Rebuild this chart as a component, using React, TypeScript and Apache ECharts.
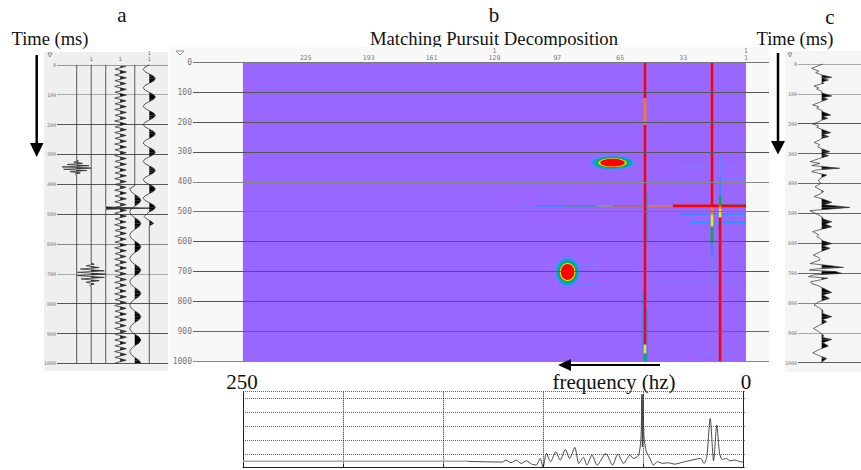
import React, { useEffect, useRef } from "react";
import * as echarts from "echarts";

const SERIF = "'Liberation Serif', 'Times New Roman', serif";
const MONO = "'DejaVu Sans Mono', monospace";

// ---- Panel a: trace number -> [time ms, amplitude in trace spacings]
const trace1: [number, number][] = [[0, 0], [318, 0], [322, .12], [326, -.2], [330, .4], [334, -.65], [338, .85], [342, -1], [346, 1], [350, -.9], [354, .7], [358, -.45], [362, .25], [366, -.1], [369, 0], [1000, 0]];
const trace2: [number, number][] = [[0, 0], [664, 0], [668, .2], [673, -.35], [679, .55], [684, -.75], [690, .9], [695, -.95], [701, .98], [706, -.95], [712, .9], [717, -.7], [723, .55], [728, -.35], [734, .2], [739, -.1], [742, 0], [1000, 0]];
const trace3: [number, number][] = [[0, 0], [476, 0], [480, 3.05], [484, 0], [1000, 0]];
const trace4Start = 5;
const trace4Step = 9.65;
const trace4: number[] = [
  .4, -.36, .42, -.38, .42, -.36, .4, -.38, .42, -.36, .42, -.38, .4, -.36, .42, -.38,
  .42, -.36, .4, -.38, .42, -.36, .42, -.38, .4, -.36, .42, -.38, .42, -.36, .4, -.38,
  .42, -.36, .42, -.38, .4, -.36, .42, -.38, .42, -.36, .4, -.38, .42, -.36, .42, -.38,
  .4, -.36, .42, -.38, .42, -.36, .4, -.38, .42, -.36, .42, -.38, .4, -.36, .42, -.38,
  .42, -.36, .4, -.38, .42, -.36, .42, -.38, .4, -.36, .42, -.38, .42, -.36, .4, -.38,
  .42, -.36, .42, -.38, .4, -.36, .42, -.38, .42, -.36, .4, -.38, .42, -.36, .42, -.38,
  .4, -.36, .42, -.38, .42, -.36, .4, -.38,
];
const trace5Start = 405;
const trace5Step = 9.75;
const trace5: number[] = [
  0, -.35, -.25, 0, .3, .42, .3, 0, -.25, -.35, -.25, 0, .3, .42, .3, 0,
  -.25, -.35, -.25, 0, .3, .42, .3, 0, -.25, -.35, -.25, 0, .3, .42, .3, 0,
  -.25, -.35, -.25, 0, .3, .42, .3, 0, -.25, -.35, -.25, 0, .3, .42, .3, 0,
  -.25, -.35, -.25, 0, .3, .42, .3, 0, -.25, -.35, -.25, 0, .3, .42,
];
const trace6Step = 7.7;
const trace6: number[] = [
  0, -.3, -.42, -.3, 0, .3, .42, .3, 0, -.3, -.42, -.3, 0, .3, .42, .3,
  0, -.3, -.42, -.3, 0, .3, .42, .3, 0, -.3, -.42, -.3, 0, .3, .42, .3,
  0, -.3, -.42, -.3, 0, .3, .42, .3, 0, -.3, -.42, -.3, 0, .3, .42, .3,
  0, -.3, -.42, -.3, 0, .3, .42, .3, 0, -.3, -.42, -.3, 0, .3, .42, .3,
  0, -.2, -.35, -.2, .1, .3, 0,
];

// ---- Panel c: composite trace [time ms, amplitude]
const compositeTrace: [number, number][] = [
  [0, 1], [14.5, -10], [24, -3], [29, -6], [36, -.7], [44.6, 10], [49, 1], [53.6, 6.7], [60, .5], [64.7, 2],
  [73.7, -7.7], [80, -3], [84, -5], [90, -1], [98, 1], [107, 10], [112, 1], [118, 6], [125, 0], [128, -2],
  [137, -9], [143, -3], [148, -5], [155, 0], [160, 1], [171, 9], [176, 1], [182, 6], [188, 0], [192, -2],
  [201, -9], [207, -3], [212, -5], [220, 1], [230, 9], [236, 1], [243, 7], [249, 0], [254, -2], [263, -7.7],
  [270, -2], [277, -4], [285, 1], [293.5, 8.3], [300, 1], [307, 6.7], [317, -3], [327, -11.7], [332.6, -1.7], [340, -10],
  [349, 18], [355, -6], [360.5, -10], [372, 5], [380, 0], [388, -3.3], [400, -1], [411, -6.7], [427, 1.7], [436, -2],
  [444, -7.7], [452, 1], [463, 10], [471, 2], [480, 28], [491, -11.7], [511, 0], [520, 2], [528, 10], [536, 3],
  [545, 10], [553, 0], [561, -9], [572, -3], [578, -5], [584, -1.7], [592, 1], [601, 10], [609, 1], [617, 8.3],
  [628, -1], [640, -8.3], [648, -3], [656, -1.7], [668, -11.7], [674, 5], [681, 21.7], [686, -6], [690, -12.3], [695, 14],
  [701, 20], [706, -8], [712, -13.3], [717, 6], [723, -1.7], [729, -11], [735, -10], [743, -3], [751, 1.7], [765, 10],
  [773, 1], [785, 7.7], [796, -3], [807, -7.7], [815, -3], [824, 1], [835, 1], [846, 10], [855, 1], [863, 5],
  [874, -2], [885, -8.3], [896, -3], [908, 1.7], [916, 1], [922, 10], [933, 1], [944, 6.7], [955, -2], [967, -9],
  [976, -3], [986, 5], [1000, -1],
];

// ---- Panel b: frequency axis labels, extent, blobs and ridges (values)
const decompFreqLabels = [225, 193, 161, 129, 97, 65, 33, 1];
const decompExtent: [number, number, number, number] = [257, 0, 1, 1000];
// f centre, t centre, f radius, t radius
const blobs: [number, number, number, number][] = [
  [68.9, 336, 11.6, 24],
  [91.8, 702, 6.4, 49],
];
const blobRingRadius = [1, .9, .8, .72, .62, .54];
const blobRingAmp = [.2, .3, .45, .55, .7, 1];
// f0, t0, f1, t1, amplitude
const ridges: [number, number, number, number, number][] = [
  [36.1, 350, 4, 350, .12], [45.8, 735, 1, 735, .12], [13.2, 391, 1, 391, .2], [6.6, 973, 24.4, 973, .1],
  [86.5, 679, 76.4, 679, .15], [101.8, 679, 96.7, 679, .12], [87, 742, 75.3, 742, .2],
  [33.6, 508, 12, 508, .3], [12, 508, 1, 508, .42], [29.5, 535, 1, 535, .35], [12, 476, 1, 476, .42],
  [118.6, 481, 107.4, 481, .12], [107.4, 481, 94.2, 481, .3], [94.2, 481, 76.9, 481, .5], [76.9, 481, 68.7, 481, .62],
  [68.7, 481, 53.4, 481, .8], [53.4, 481, 38.2, 481, .85], [38.2, 481, 1, 481, 1],
  [51.4, 430, 51.4, 600, .3], [53.4, 770, 53.4, 960, .3], [51.4, 825, 51.4, 1000, .3],
  [52.4, 0, 52.4, 120, 1], [52.4, 120, 52.4, 210, .85], [52.4, 210, 52.4, 945, 1], [52.4, 945, 52.4, 975, .7], [52.4, 975, 52.4, 1000, .55],
  [18.3, 0, 18.3, 485, 1], [18.3, 485, 18.3, 510, .85], [18.3, 510, 18.3, 550, .7], [18.3, 550, 18.3, 605, .55], [18.3, 605, 18.3, 652, .3], [18.3, 652, 18.3, 740, .15],
  [14.2, 310, 14.2, 385, .15], [14.2, 385, 14.2, 445, .3], [14.2, 445, 14.2, 480, .55], [14.2, 480, 14.2, 490, .85], [14.2, 490, 14.2, 520, .7], [14.2, 520, 14.2, 1000, 1],
];

// ---- Spectrum: [frequency Hz, amplitude in divisions]
const spectrumFlat: [number, number][] = [[250, .46], [137.6, .46]];
const spectrum: [number, number][] = [
  [137.6, .46], [120.3, .41], [118.6, .55], [116, .36], [113.4, .55], [110.9, .31], [108.3, .5], [105.7, .26], [103.4, .19], [101.4, .67],
  [100, .02], [98.3, 1.03], [96.2, .43], [93.6, 1.15], [91.4, .55], [88.8, 1.32], [86.7, .67], [84.1, 1.47], [82.1, .31], [79.8, .75],
  [78.1, .19], [75.5, .91], [72.9, .19], [68.6, 1.03], [65.2, .19], [62.6, .99], [59.7, .31], [56.5, .91], [54.8, .67], [52.2, .91],
  [51, 2.24], [50.6, 5.31], [50.3, 1.5], [50, 5.31], [49.5, 2.24], [48.3, 1.15], [46.5, .67], [44.8, .19], [42.8, .43], [40.2, .31],
  [37.6, .36], [34.1, .26], [29.8, .41], [25.5, .55], [21.2, .67], [19.5, .31], [18.1, .79], [16.4, 3.56], [14.7, .5], [13.1, 3.08],
  [11.7, 1.03], [10.3, .6], [8.3, .67], [6.6, .5], [4, .55], [1.4, .43], [0, .41],
];

const PALETTE: [number, string][] = [
  [.12, "#8478ff"], [.2, "#5f88ff"], [.3, "#1f8fff"], [.42, "#00a8ff"], [.45, "#00b0b0"], [.5, "#20a080"], [.55, "#00b040"],
  [.62, "#90a840"], [.7, "#f4e800"], [.8, "#c06a30"], [.85, "#ff7a10"], [1, "#ff0000"],
];
const ampColor = (a: number) => (PALETTE.find(([v]) => a <= v) || PALETTE[PALETTE.length - 1])[1];

const sampled = (start: number, step: number, amps: number[]): [number, number][] =>
  amps.map((a, i) => [start + step * i, a]);

function wiggle(points: [number, number][], offset: number, axis: number, width = 0.8): any {
  return {
    type: "custom",
    xAxisIndex: axis,
    yAxisIndex: axis,
    z: 5,
    silent: true,
    clip: false,
    encode: { x: 0, y: 1 },
    data: points.map(([t, a]) => [offset + a, t]),
    renderItem: (params: any, api: any) => {
      const i = params.dataIndex;
      if (i === 0) return null;
      const [t0, a0] = points[i - 1];
      const [t1, a1] = points[i];
      const p0 = api.coord([offset + a0, t0]);
      const p1 = api.coord([offset + a1, t1]);
      const b0 = api.coord([offset, t0]);
      const b1 = api.coord([offset, t1]);
      const children: any[] = [];
      if (a0 > 0 || a1 > 0) {
        let poly: number[][];
        if (a0 >= 0 && a1 >= 0) poly = [b0, p0, p1, b1];
        else {
          const r = a0 / (a0 - a1);
          const c = [b0[0], b0[1] + (b1[1] - b0[1]) * r];
          poly = a0 > 0 ? [b0, p0, c] : [c, p1, b1];
        }
        children.push({ type: "polygon", shape: { points: poly }, style: { fill: "#000" } });
      }
      children.push({
        type: "line",
        shape: { x1: p0[0], y1: p0[1], x2: p1[0], y2: p1[1] },
        style: { stroke: "#333", lineWidth: width },
      });
      return { type: "group", children };
    },
  };
}

const hiddenX = (grid: number, min: number, max: number, extra: any = {}) => ({
  type: "value",
  gridIndex: grid,
  min,
  max,
  position: "top",
  z: 4,
  axisLine: { show: false },
  axisTick: { show: false },
  splitLine: { show: false },
  axisLabel: { show: false },
  ...extra,
});

const timeY = (grid: number, fontSize: number, colors: string[]) => ({
  type: "value",
  gridIndex: grid,
  inverse: true,
  min: 0,
  max: 1000,
  interval: 100,
  z: 4,
  axisLine: { show: false },
  axisTick: { show: false },
  axisLabel: { fontFamily: MONO, fontSize, color: "#777", margin: 1, formatter: (v: number) => String(v) },
  splitLine: { show: true, lineStyle: { color: colors, width: 1 } },
});

const txt = (text: string, x: number, y: number, size: number, z = 6) => ({
  type: "text",
  x,
  y,
  z,
  silent: true,
  style: { text, fontFamily: SERIF, fontSize: size, fill: "#111", align: "center", verticalAlign: "middle" },
});
const rect = (x: number, y: number, w: number, h: number, fill: string) => ({
  type: "rect", z: 1, silent: true, shape: { x, y, width: w, height: h }, style: { fill },
});
const poly = (pts: number[][]) => ({
  type: "polygon", z: 10, silent: true, shape: { points: pts }, style: { fill: "#000" },
});
const seg = (x1: number, y1: number, x2: number, y2: number, w: number) => ({
  type: "line", z: 10, silent: true, shape: { x1, y1, x2, y2 }, style: { stroke: "#000", lineWidth: w },
});
const marker = (x: number, y: number, w: number, h: number) => ({
  type: "polygon", z: 6, silent: true,
  shape: { points: [[x, y], [x + w, y], [x + w / 2, y + h]] },
  style: { fill: "none", stroke: "#777", lineWidth: 0.8 },
});

function buildOption(): any {
  return {
    animation: false,
    backgroundColor: "#fff",
    grid: [
      { left: 57, width: 111, top: 64.8, height: 298.6 },
      { left: 193, width: 576, top: 62.3, height: 298.7 },
      { left: 798, width: 63, top: 64, height: 298.7 },
      { left: 243, width: 500, top: 391.7, height: 76 },
    ],
    xAxis: [
      hiddenX(0, -0.357, 7.288, {
        axisLabel: {
          show: true, customValues: [2, 4, 6], fontFamily: MONO, fontSize: 5, color: "#666", margin: 3, lineHeight: 6,
          formatter: (v: number) => (v === 6 ? "1\n1" : "1"),
        },
      }),
      hiddenX(1, -10.7, 282.4, {
        inverse: true,
        axisLabel: {
          show: true, customValues: decompFreqLabels, fontFamily: MONO, fontSize: 6.5, color: "#777", margin: 1, lineHeight: 7,
          formatter: (v: number) => (v === 129 || v === 1 ? `1\n${v}` : `${v}`),
        },
      }),
      hiddenX(2, -23.7, 39.3),
      {
        type: "value", gridIndex: 3, inverse: true, min: 0, max: 250, interval: 50, position: "bottom",
        axisLine: { show: true, onZero: false, lineStyle: { color: "#222" } },
        axisTick: { show: true, inside: true, length: 4, lineStyle: { color: "#222" } },
        axisLabel: { show: false },
        splitLine: { show: true, lineStyle: { color: "#222", type: "dotted" } },
      },
    ],
    yAxis: [
      timeY(0, 5, ["#999", "#aaa", "#555", "#555", "#555", "#555", "#888", "#aaa", "#555", "#555", "#555"]),
      timeY(1, 8, ["#777", "#555", "#555", "#555", "#888", "#777", "#555", "#555", "#555", "#666", "#888"]),
      timeY(2, 5, ["#aaa", "#aaa", "#555", "#666", "#666", "#666", "#666", "#666", "#888", "#aaa", "#666"]),
      {
        type: "value", gridIndex: 3, min: 0, max: 5.5, interval: 1,
        axisLine: { show: true, onZero: false, lineStyle: { color: "#222" } },
        axisTick: { show: false }, axisLabel: { show: false },
        splitLine: { show: true, lineStyle: { color: "#666", type: "dotted", width: 1 } },
      },
      {
        type: "value", gridIndex: 3, min: 0, max: 5.5, interval: 1, position: "right", offset: 9,
        axisLine: { show: false }, axisLabel: { show: false }, splitLine: { show: false },
        axisTick: { show: true, length: 1.5, lineStyle: { color: "#222" } },
      },
    ],
    graphic: [
      txt("a", 122, 15, 21),
      txt("Time (ms)", 50, 39, 18.5),
      txt("b", 494, 15, 21),
      { ...txt("Matching Pursuit Decomposition", 494, 38, 18.7), z: 0 },
      txt("c", 830, 17, 21),
      txt("Time (ms)", 795, 39, 18.5),
      txt("250", 242, 382, 21),
      txt("frequency (hz)", 614, 382, 21),
      txt("0", 746, 382, 21),
      rect(44, 52, 124, 319, "#efefef"),
      rect(170, 47, 599, 315, "#f8f8f8"),
      rect(785, 51, 76, 321, "#f5f5f5"),
      marker(48, 53, 4, 4),
      marker(176, 51, 8, 4),
      marker(788, 53, 4, 4),
      seg(36.7, 55, 36.7, 144, 2.5),
      poly([[30, 143], [43.5, 143], [36.7, 157]]),
      seg(778, 53, 778, 142, 2.5),
      poly([[771, 141], [785, 141], [778, 154.5]]),
      seg(570, 365, 660, 365, 2),
      poly([[571, 359], [571, 371], [558, 365]]),
    ],
    series: [
      wiggle(trace1, 1, 0),
      wiggle(trace2, 2, 0),
      wiggle(trace3, 3, 0),
      wiggle(sampled(trace4Start, trace4Step, trace4), 4, 0),
      wiggle([[0, 0], [405, 0]], 5, 0),
      wiggle(sampled(trace5Start, trace5Step, trace5), 5, 0),
      wiggle(sampled(0, trace6Step, trace6), 6, 0),
      wiggle([[539, 0], [1000, 0]], 6, 0),
      wiggle(compositeTrace, 0, 2, 0.7),
      {
        type: "custom", xAxisIndex: 1, yAxisIndex: 1, z: 2, silent: true,
        data: [decompExtent],
        renderItem: (_p: any, api: any) => {
          const a = api.coord([decompExtent[0], decompExtent[1]]);
          const b = api.coord([decompExtent[2], decompExtent[3]]);
          return { type: "rect", shape: { x: a[0], y: a[1], width: b[0] - a[0], height: b[1] - a[1] }, style: { fill: "#9966ff" } };
        },
      },
      {
        type: "custom", xAxisIndex: 1, yAxisIndex: 1, z: 3, silent: true, clip: false,
        data: ridges,
        renderItem: (p: any, api: any) => {
          const [f0, t0, f1, t1, amp] = ridges[p.dataIndex];
          const a = api.coord([f0, t0]);
          const b = api.coord([f1, t1]);
          const vertical = Math.abs(b[1] - a[1]) > Math.abs(b[0] - a[0]);
          const w = vertical ? (amp >= 0.55 ? 2.5 : 1.4) : (amp >= 1 ? 2.8 : 1.3);
          const shape = vertical
            ? { x: a[0] - w / 2, y: Math.min(a[1], b[1]), width: w, height: Math.abs(b[1] - a[1]) }
            : { x: Math.min(a[0], b[0]), y: a[1] - w / 2, width: Math.abs(b[0] - a[0]), height: w };
          return { type: "rect", shape, style: { fill: ampColor(amp) } };
        },
      },
      ...blobs.map((blob) => ({
        type: "custom", xAxisIndex: 1, yAxisIndex: 1, z: 3, silent: true,
        data: blobRingRadius.map((r) => [blob[0], blob[1], r]),
        renderItem: (p: any, api: any) => {
          const r = blobRingRadius[p.dataIndex];
          const c = api.coord([blob[0], blob[1]]);
          const e = api.coord([blob[0] - blob[2] * r, blob[1] + blob[3] * r]);
          return {
            type: "ellipse",
            shape: { cx: c[0], cy: c[1], rx: Math.abs(e[0] - c[0]), ry: Math.abs(e[1] - c[1]) },
            style: { fill: ampColor(blobRingAmp[p.dataIndex]) },
          };
        },
      })),
      {
        type: "line", xAxisIndex: 3, yAxisIndex: 3, z: 5, data: spectrumFlat, showSymbol: false, silent: true,
        lineStyle: { color: "#aaa", width: 1.5 },
        markLine: {
          silent: true, symbol: "none", label: { show: false },
          lineStyle: { color: "#222", type: "solid", width: 1 }, data: [{ xAxis: 0 }],
        },
      },
      {
        type: "line", xAxisIndex: 3, yAxisIndex: 3, z: 5, data: spectrum, showSymbol: false, silent: true, smooth: 0.25,
        lineStyle: { color: "#333", width: 0.9 },
      },
    ],
  };
}

export default function App() {
  const ref = useRef<HTMLDivElement>(null);
  useEffect(() => {
    document.body.style.margin = "0";
    const chart = echarts.init(ref.current!, null, { renderer: "svg" });
    chart.setOption(buildOption());
    return () => chart.dispose();
  }, []);
  return <div ref={ref} style={{ width: 861, height: 470 }} />;
}
